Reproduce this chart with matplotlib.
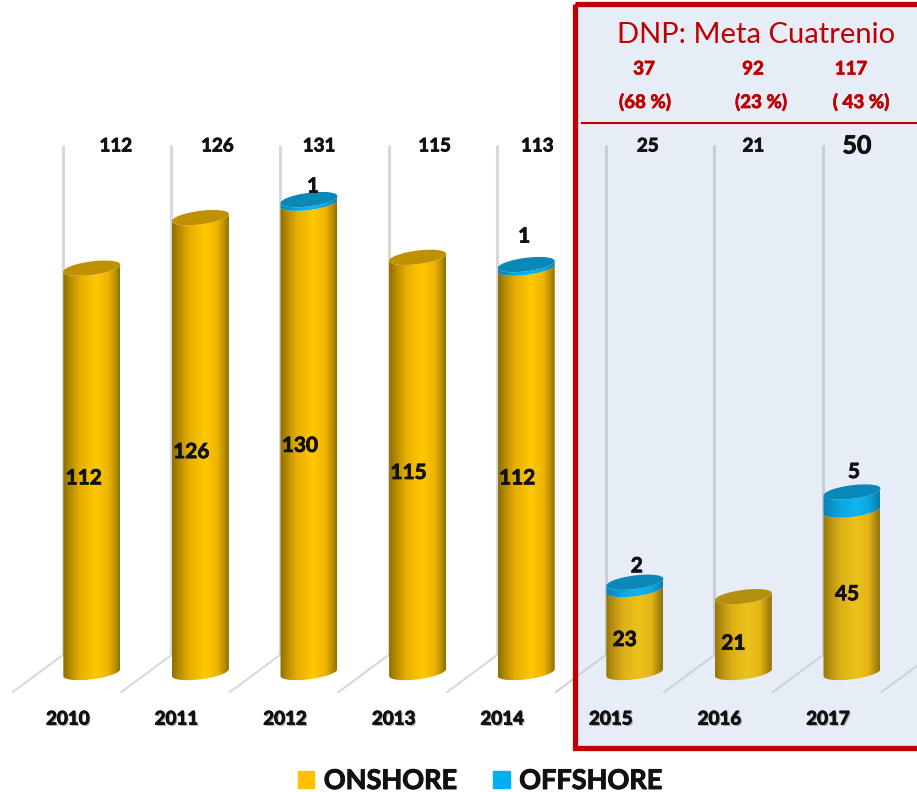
import numpy as np
import matplotlib
matplotlib.use("Agg")
import matplotlib.pyplot as plt
import matplotlib.patheffects as pe
from matplotlib.colors import LinearSegmentedColormap
from matplotlib.patches import Patch, PathPatch, Rectangle
from matplotlib.path import Path
from matplotlib.transforms import Affine2D

plt.rcParams['font.family'] = ['Lato', 'DejaVu Sans']

# ---- data ----
years = ['2010', '2011', '2012', '2013', '2014', '2015', '2016', '2017']
onshore = [112, 126, 130, 115, 112, 23, 21, 45]
offshore = [0, 0, 1, 0, 1, 2, 0, 5]
totals = [112, 126, 131, 115, 113, 25, 21, 50]
goal_values = ['37', '92', '117']
goal_pcts = ['(68 %)', '(23 %)', '( 43 %)']
title_text = 'DNP: Meta Cuatrenio'
series_names = ['ONSHORE', 'OFFSHORE']

# ---- geometry ----
W, H = 917, 792
STEP_PX, X0_PX, BASE_PX, UNIT_PX = 108.6, 91.8, 672.5, 3.61
HALF_W = 28.5 / STEP_PX
ELL_B = 6.8 / UNIT_PX
ELL_K = 3.5 / UNIT_PX
DARK = '#C00000'
HEAVY = [pe.withStroke(linewidth=0.6, foreground='#111111')]
HEAVY_RED = [pe.withStroke(linewidth=0.5, foreground=DARK)]

fig = plt.figure(figsize=(W / 100, H / 100), dpi=100, facecolor='white')
ax = fig.add_axes([0, 0, 1, 1])
ax.set_xlim(-X0_PX / STEP_PX, (W - X0_PX) / STEP_PX)
ax.set_ylim((BASE_PX - H) / UNIT_PX, BASE_PX / UNIT_PX)
ax.axis('off')
xlim, ylim = ax.get_xlim(), ax.get_ylim()
px = Affine2D().scale(1, -1).translate(0, H)   # annotation layer, top-left origin


def cmap(stops):
    pos = [0, .12, .3, .58, .8, .93, 1]
    return LinearSegmentedColormap.from_list('c', list(zip(pos, stops)))


GOLD = cmap(['#8F6E00', '#B48A00', '#E6AE00', '#FFC800', '#EDB400', '#B78C00', '#8F6E00'])
GOLD_P = cmap(['#97750A', '#B8900F', '#DDB017', '#EAC31C', '#E4B414', '#A9860F', '#92720C'])
BLUE = cmap(['#0A7FAE', '#0B8FC4', '#0DA6E0', '#0FB4F2', '#0DA6E0', '#0B8BBD', '#0A7BA8'])


def ellipse_xy(cx, y, t):
    return cx + HALF_W * np.cos(t), y + ELL_K * np.cos(t) + ELL_B * np.sin(t)


def body(cx, y0, y1, cm, z):
    t = np.linspace(np.pi, 2 * np.pi, 40)
    xb, yb = ellipse_xy(cx, y0, t)
    xt, yt = ellipse_xy(cx, y1, t[::-1])
    verts = np.r_[np.c_[xb, yb], np.c_[xt, yt]]
    patch = PathPatch(Path(np.r_[verts, verts[:1]], closed=True), fc='none', ec='none', zorder=z,
                      transform=ax.transData)
    ax.add_patch(patch)
    grad = np.linspace(0, 1, 256)[None, :]
    im = ax.imshow(grad, cmap=cm, extent=(cx - HALF_W, cx + HALF_W, y0 - 3 * ELL_B, y1 + 3 * ELL_B),
                   aspect='auto', zorder=z, interpolation='bilinear')
    im.set_clip_path(patch)


def top(cx, y, color, z):
    t = np.linspace(0, 2 * np.pi, 80)
    xe, ye = ellipse_xy(cx, y, t)
    ax.fill(xe, ye, color=color, lw=0, zorder=z)


# panel fill
ax.add_patch(Rectangle((575, 4), W - 575 + 10, 744, transform=px, fc='#E6EDF6', ec='none', zorder=0))

xs = np.arange(len(years))
GRID_TOP = (BASE_PX - 145) / UNIT_PX
GRID_BOT = (BASE_PX - 655) / UNIT_PX
FLOOR_BOT = (BASE_PX - 692) / UNIT_PX
for i in range(len(years) + 1):
    gx = i - 29 / STEP_PX
    in_panel = i >= 5
    if i < len(years):
        ax.plot([gx, gx], [GRID_BOT, GRID_TOP], color='#C6CED8' if in_panel else '#D9D9D9',
                lw=2.2, zorder=1, solid_capstyle='butt')
    ax.plot([gx, gx - 50 / STEP_PX], [GRID_BOT, FLOOR_BOT], color='#CDD3DB' if in_panel else '#D9D9D9',
            lw=1.5, zorder=1)

on_offsets = [(-8, 8), (-9, 7), (-9, 8), (-9, 8), (-9, 8), (-10, 9), (-10, 9), (-5, 3)]
off_offsets = {2: (4, -13), 4: (-2, -28), 5: (2, -16), 7: (2, -20)}
total_x_off = [24, 17, 10, 17, 11, 13, 10, 5]

for i, x in enumerate(xs):
    panel = i >= 5
    on, off = onshore[i], offshore[i]
    body(x, 0, on, GOLD_P if panel else GOLD, 2 + i * .01)
    if off:
        body(x, on, on + off, BLUE, 3 + i * .01)
        top(x, on + off, '#0A88B8', 4)
    else:
        top(x, on, '#B58F10' if panel else '#BF9000', 4)

    dx, dy = on_offsets[i]
    ax.annotate(str(on), (x, on / 2), xytext=(dx, -dy), textcoords='offset pixels', ha='center', va='center',
                fontsize=15, fontweight='bold', color='#111111', zorder=6, path_effects=HEAVY)
    if off:
        dx, dy = off_offsets[i]
        ax.annotate(str(off), (x, on + off), xytext=(dx, -dy), textcoords='offset pixels', ha='center',
                    va='center', fontsize=15, fontweight='bold', color='#111111', zorder=6, path_effects=HEAVY)
    big = i == 7
    ax.annotate(str(totals[i]), (x, GRID_TOP), xytext=(total_x_off[i], -1 if big else -1),
                textcoords='offset pixels', ha='center', va='center',
                fontsize=18 if big else 13.5, fontweight='bold', color='#111111', zorder=6, path_effects=HEAVY)
    ax.annotate(years[i], (x, FLOOR_BOT), xytext=(-24, -27), textcoords='offset pixels', ha='center', va='center',
                fontsize=13.5, fontweight='bold', color='#111111', zorder=6,
                path_effects=[pe.withSimplePatchShadow(offset=(1, -1), shadow_rgbFace='#888888', alpha=.7),
                              pe.withStroke(linewidth=0.6, foreground='#111111')])

# panel border, rule and texts
ax.add_patch(Rectangle((575, 3.5), W - 575 + 10, 744, transform=px, fc='none', ec=DARK, lw=3.8, zorder=5))
ax.plot([582, W], [123, 123], transform=px, color=DARK, lw=1.5, zorder=5)
ax.text(756, 35, title_text, transform=px, ha='center', va='center', fontsize=21, color=DARK, zorder=6)
for gx, v in zip([644, 753, 851], goal_values):
    ax.text(gx, 69, v, transform=px, ha='center', va='center', fontsize=13.5, fontweight='bold', color=DARK,
            zorder=6, path_effects=HEAVY_RED)
for gx, v in zip([645, 761, 861], goal_pcts):
    ax.text(gx, 102, v, transform=px, ha='center', va='center', fontsize=13.5, fontweight='bold', color=DARK,
            zorder=6, path_effects=HEAVY_RED)

handles = [Patch(color='#FFC000', label=series_names[0]), Patch(color='#00B0F0', label=series_names[1])]
leg = ax.legend(handles=handles, loc='center', bbox_to_anchor=(480 / W, 1 - 781 / H), ncols=2, frameon=False,
                prop={'size': 19.5, 'weight': 'bold'}, labelcolor='#111111', handlelength=.6, handleheight=.6,
                handletextpad=.35, columnspacing=1.35, borderpad=0, borderaxespad=0)
for t in leg.get_texts():
    t.set_path_effects([pe.withStroke(linewidth=0.7, foreground='#111111')])

ax.set_xlim(xlim)
ax.set_ylim(ylim)
fig.savefig('out.png', dpi=100)
